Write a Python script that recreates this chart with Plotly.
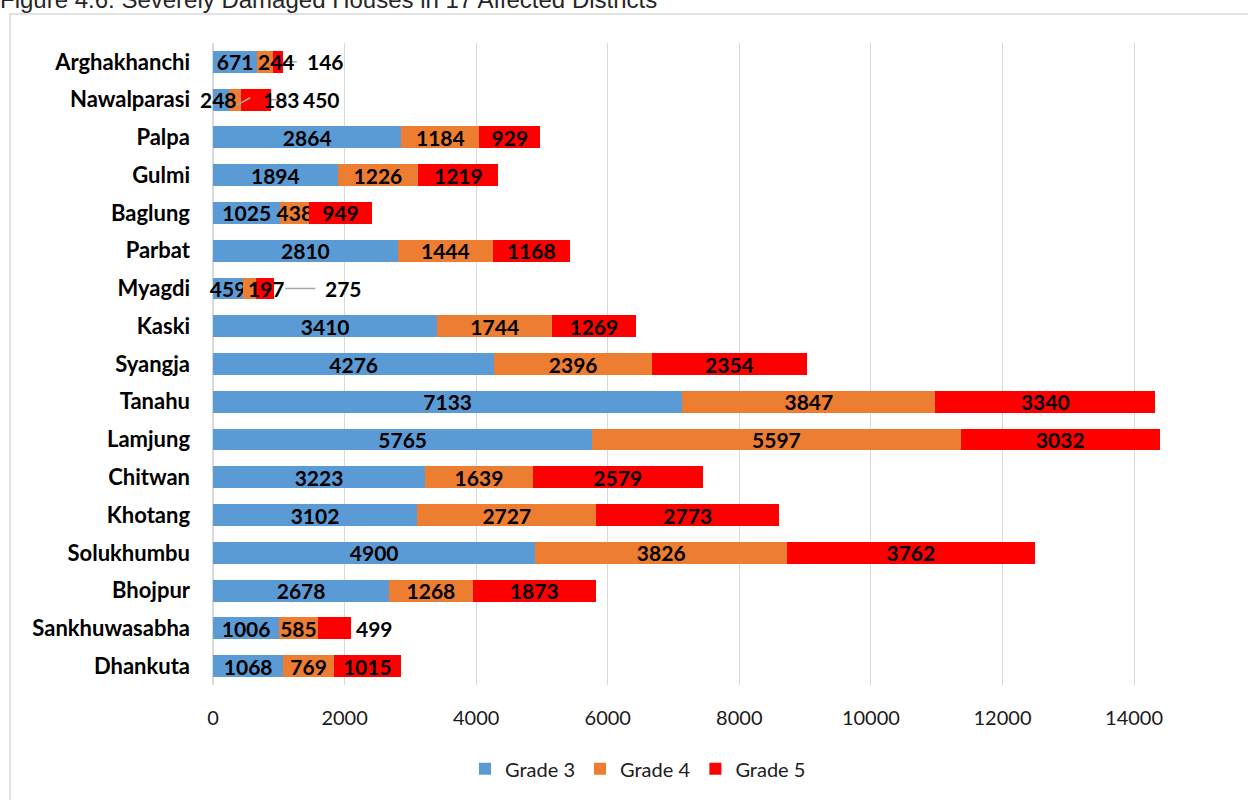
import plotly.graph_objects as go

districts = ["Arghakhanchi", "Nawalparasi", "Palpa", "Gulmi", "Baglung", "Parbat", "Myagdi",
             "Kaski", "Syangja", "Tanahu", "Lamjung", "Chitwan", "Khotang", "Solukhumbu",
             "Bhojpur", "Sankhuwasabha", "Dhankuta"]
grade3 = [671, 248, 2864, 1894, 1025, 2810, 459, 3410, 4276, 7133, 5765, 3223, 3102, 4900, 2678, 1006, 1068]
grade4 = [244, 183, 1184, 1226, 438, 1444, 197, 1744, 2396, 3847, 5597, 1639, 2727, 3826, 1268, 585, 769]
grade5 = [146, 450, 929, 1219, 949, 1168, 275, 1269, 2354, 3340, 3032, 2579, 2773, 3762, 1873, 499, 1015]
series_names = ["Grade 3", "Grade 4", "Grade 5"]
x_ticks = [0, 2000, 4000, 6000, 8000, 10000, 12000, 14000]
title_text = "Figure 4.6: Severely Damaged Houses in 17 Affected Districts"

colors = ["#5B9BD5", "#ED7D31", "#FF0000"]
series = [grade3, grade4, grade5]

# displaced labels: (district, series index) -> (anchor 'center'/'end', pixel shift, leader (x0,x1) px or None)
displaced = {
    ("Arghakhanchi", 1): ("center", 11, None),
    ("Arghakhanchi", 2): ("end", 22, (0, 14)),
    ("Nawalparasi", 0): ("center", -3, None),
    ("Nawalparasi", 1): ("center", 46, None),
    ("Nawalparasi", 2): ("end", 30, (0, 16)),
    ("Myagdi", 1): ("center", 17, None),
    ("Myagdi", 2): ("end", 49, (11, 41)),
    ("Sankhuwasabha", 2): ("end", 3, None),
}

label_font = dict(family="Lato, Open Sans, sans-serif", size=21, color="black")

fig = go.Figure()
for si, (name, vals, col) in enumerate(zip(series_names, series, colors)):
    texts = []
    for di, d in enumerate(districts):
        texts.append("" if (d, si) in displaced else f"<b>{vals[di]}</b>")
    fig.add_trace(go.Bar(
        y=districts, x=vals, name=name, orientation="h",
        marker=dict(color=col, line=dict(width=0)),
        text=texts, textposition="inside", insidetextanchor="middle",
        constraintext="none", textfont=label_font, textangle=0,
        cliponaxis=False, hoverinfo="x+name",
    ))

annotations = []
shapes = []
for (d, si), (anchor, shift, leader) in displaced.items():
    di = districts.index(d)
    start = sum(series[k][di] for k in range(si))
    end = start + series[si][di]
    if anchor == "center":
        xpos = start + series[si][di] / 2
        annotations.append(dict(x=xpos, y=di, xref="x", yref="y", text=f"<b>{series[si][di]}</b>",
                                showarrow=False, xanchor="center", xshift=shift, font=label_font))
    else:
        annotations.append(dict(x=end, y=di, xref="x", yref="y", text=f"<b>{series[si][di]}</b>",
                                showarrow=False, xanchor="left", xshift=shift, font=label_font))
    if leader:
        shapes.append(dict(type="line", xref="x", yref="y", xsizemode="pixel", xanchor=end,
                           x0=leader[0], x1=leader[1], y0=di, y1=di,
                           line=dict(color="#A6A6A6", width=1.5), layer="above"))

# small diagonal leader for Nawalparasi Grade 4
di = districts.index("Nawalparasi")
c4 = grade3[di] + grade4[di] / 2
shapes.append(dict(type="line", xref="x", yref="y", xsizemode="pixel", xanchor=c4,
                   x0=1, x1=15, y0=di + 0.15, y1=di - 0.05,
                   line=dict(color="#A6A6A6", width=1.5), layer="above"))

# outer chart border
L, T, W, H = 213, 43, 1020, 644
def px(xp): return (xp - L) / W
def py(yp): return (T + H - yp) / H
shapes.append(dict(type="rect", xref="paper", yref="paper",
                   x0=px(10), x1=px(1262), y0=py(812), y1=py(14),
                   line=dict(color="#D9D9D9", width=1.5), fillcolor="rgba(0,0,0,0)", layer="below"))

annotations.append(dict(x=px(-2), y=py(-1), xref="paper", yref="paper", text=title_text,
                        showarrow=False, xanchor="left", yanchor="middle",
                        font=dict(family="Liberation Sans, Arial, sans-serif", size=24, color="#262626")))

fig.update_layout(
    barmode="stack", bargap=0.42,
    width=1248, height=800,
    margin=dict(l=L, r=1248 - L - W, t=T, b=800 - T - H),
    plot_bgcolor="white", paper_bgcolor="white",
    showlegend=True,
    legend=dict(orientation="h", x=px(638), y=py(771), xanchor="center", yanchor="middle",
                font=dict(family="Lato, Open Sans, sans-serif", size=20, color="#202020"),
                traceorder="normal", itemclick=False),
    uniformtext=dict(minsize=21, mode="show"),
    annotations=annotations, shapes=shapes,
)
fig.update_xaxes(range=[0, W / 0.06579], tickvals=x_ticks, ticktext=[str(v) for v in x_ticks],
                 showgrid=True, gridcolor="#D9D9D9", gridwidth=1, zeroline=True, zerolinecolor="#D9D9D9",
                 showline=False, ticks="", ticklabelstandoff=19,
                 tickfont=dict(family="Lato, Open Sans, sans-serif", size=20, color="#1a1a1a"))
fig.update_yaxes(categoryorder="array", categoryarray=districts, autorange="reversed",
                 showgrid=False, showline=False, ticks="", ticklabelstandoff=22,
                 tickfont=dict(family="Lato, Open Sans, sans-serif", size=22, color="black", weight="bold"))

fig.write_html("out.html")
